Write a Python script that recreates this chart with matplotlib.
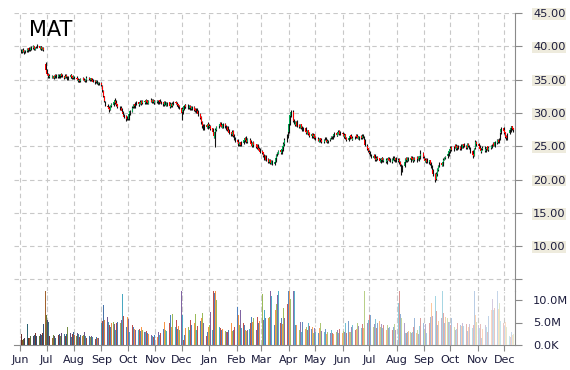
import matplotlib
matplotlib.use("Agg")
import matplotlib.pyplot as plt
import matplotlib.dates as mdates
import matplotlib.colors as mcolors
import numpy as np
import pandas as pd

ticker = "MAT"
start_date = "2014-06-02"
end_date = "2015-12-11"
month_labels_from = "2014-06-01"
month_labels_to = "2015-12-01"

opens = [
 39.2, 39.5, 39.2, 39.4, 39.1, 39.3, 39.7, 39.4, 39.8, 39.5, 39.7, 40.0, 39.5, 39.8, 39.8, 40.0, 39.6, 39.9, 39.5, 39.8, 37.4,
 36.4, 35.9, 35.8, 35.4, 35.6, 35.3, 35.6, 35.3, 35.7, 35.4, 35.7, 35.4, 35.5, 35.8, 35.5, 35.3, 35.7, 35.4, 35.2, 35.4, 35.7, 35.5, 35.2,
 35.5, 35.3, 35.2, 34.8, 35.0, 34.8, 35.0, 35.2, 35.0, 34.8, 35.0, 35.3, 35.1, 34.9, 35.2, 35.0, 34.8, 34.6, 34.8, 34.6, 34.3,
 34.5, 34.1, 33.3, 32.5, 31.7, 31.1, 30.9, 30.7, 30.5, 31.1, 31.2, 31.5, 31.8, 31.5, 31.3, 30.9, 30.5, 30.7, 30.2, 29.7, 29.5, 29.0,
 29.4, 29.1, 29.9, 30.2, 30.9, 31.3, 30.9, 31.3, 31.6, 31.2, 31.4, 31.8, 31.5, 31.8, 31.5, 31.9, 31.8, 31.4, 31.7, 32.0, 31.6, 31.9, 31.5,
 31.7, 31.9, 31.5, 31.9, 31.7, 31.6, 31.2, 31.7, 31.5, 31.1, 31.6, 30.9, 31.4, 31.0, 31.3, 31.7, 31.6, 31.4, 31.3, 31.1,
 30.8, 30.1, 30.5, 31.0, 31.2, 30.8, 31.1, 30.7, 31.0, 30.6, 30.9, 30.6, 30.2, 30.7, 30.3, 29.9, 29.4, 28.7, 28.1, 27.6, 28.2, 27.8, 28.4,
 27.9, 28.1, 27.7, 27.1, 26.3, 27.2, 27.4, 28.0, 28.1, 28.5, 28.2, 27.8, 28.4, 28.1, 27.5, 27.9, 27.5, 27.1, 26.7, 27.3, 26.7, 26.3,
 25.9, 25.7, 25.2, 25.6, 25.1, 25.5, 25.8, 26.3, 26.0, 25.6, 26.2, 25.9, 25.5, 25.0, 25.6, 25.3, 24.8, 25.2, 24.8, 24.6,
 24.3, 24.1, 23.7, 23.1, 23.6, 23.1, 22.6, 23.0, 22.4, 22.9, 22.3, 22.7, 23.2, 23.8, 23.9, 24.4, 24.0, 24.5, 24.9, 25.3, 25.9, 26.5,
 27.1, 28.4, 29.6, 30.2, 28.9, 28.6, 28.2, 28.7, 28.2, 27.8, 28.3, 27.9, 27.4, 27.8, 27.3, 26.9, 27.4, 27.0, 26.5, 26.9, 26.4, 26.8,
 26.4, 26.3, 26.1, 25.7, 26.2, 26.0, 25.6, 26.0, 26.3, 26.0, 25.6, 25.9, 26.2, 26.5, 26.2, 26.5, 27.0, 26.6, 26.9, 27.3, 26.8,
 27.0, 26.9, 26.4, 26.8, 26.3, 25.9, 26.2, 26.7, 26.5, 26.0, 26.2, 26.4, 26.7, 26.5, 26.1, 26.6, 26.2, 26.7, 26.5, 26.0, 25.1, 24.7,
 24.2, 24.1, 23.8, 23.3, 23.7, 23.3, 22.9, 23.4, 23.2, 22.7, 23.1, 23.3, 22.8, 23.2, 22.6, 23.0, 23.3, 23.1, 22.7, 23.2, 23.4, 22.9, 23.3,
 22.8, 23.1, 22.7, 22.1, 21.3, 22.1, 22.7, 23.2, 22.8, 23.3, 22.9, 23.4, 23.2, 22.8, 23.3, 22.9, 23.4, 23.0, 23.3, 23.5, 24.0,
 23.3, 23.2, 22.7, 23.1, 22.6, 22.9, 22.5, 22.1, 21.5, 20.9, 20.1, 20.8, 21.5, 22.1, 22.5, 22.1, 22.7, 23.0, 23.3, 23.5, 23.8, 24.2,
 24.5, 24.9, 24.4, 24.8, 25.2, 24.6, 25.1, 24.9, 24.5, 25.2, 24.8, 25.3, 25.1, 24.7, 25.4, 25.1, 24.8, 24.3, 23.8, 23.6, 24.7, 25.7,
 25.3, 25.1, 24.7, 24.2, 24.6, 24.9, 24.3, 24.7, 25.0, 24.4, 24.8, 24.9, 25.1, 25.5, 25.0, 25.5, 26.0, 25.6, 26.2, 27.1, 27.7,
 27.4, 27.1, 26.5, 26.1, 27.0, 27.4, 27.7, 28.0, 27.7,
]

highs = [
 39.6, 39.6, 39.7, 39.5, 39.5, 39.8, 39.8, 39.9, 39.9, 40.0, 40.2, 40.1, 39.9, 40.1, 40.3, 40.1, 40.0, 40.0, 39.9, 39.9, 37.7,
 36.6, 36.0, 35.9, 35.8, 35.7, 35.6, 35.7, 35.8, 35.8, 35.9, 35.8, 35.8, 36.0, 35.9, 35.6, 35.8, 35.8, 35.5, 35.6, 35.9, 35.8, 35.6, 35.7,
 35.6, 35.5, 35.3, 35.1, 35.1, 35.2, 35.4, 35.3, 35.1, 35.1, 35.5, 35.4, 35.2, 35.3, 35.3, 35.1, 34.9, 34.9, 34.9, 34.7, 34.7,
 34.6, 34.2, 33.5, 32.6, 31.8, 31.4, 31.1, 30.9, 31.2, 31.5, 31.8, 32.2, 31.9, 31.6, 31.4, 31.0, 31.0, 30.8, 30.3, 29.9, 29.7, 29.6,
 29.6, 30.0, 30.5, 31.0, 31.4, 31.4, 31.6, 31.8, 31.7, 31.7, 31.9, 31.9, 32.0, 31.9, 32.1, 32.0, 31.9, 32.0, 32.2, 32.1, 32.1, 32.0, 32.0,
 32.0, 32.0, 32.0, 32.1, 31.8, 31.7, 31.8, 31.8, 31.6, 31.7, 31.7, 31.5, 31.5, 31.6, 31.8, 31.8, 31.7, 31.5, 31.4, 31.2,
 30.9, 30.8, 31.2, 31.4, 31.3, 31.3, 31.2, 31.2, 31.1, 31.0, 31.0, 30.7, 30.8, 30.8, 30.4, 30.0, 29.5, 28.8, 28.3, 28.3, 28.4, 28.5, 28.6,
 28.3, 28.2, 27.8, 27.2, 27.3, 27.7, 28.1, 28.4, 28.6, 28.6, 28.3, 28.5, 28.5, 28.2, 28.0, 28.0, 27.6, 27.2, 27.4, 27.4, 26.8, 26.4,
 26.1, 25.9, 25.7, 25.7, 25.8, 26.0, 26.4, 26.5, 26.1, 26.3, 26.3, 26.0, 25.6, 25.6, 25.8, 25.4, 25.3, 25.3, 24.9, 24.7,
 24.5, 24.2, 23.8, 23.7, 23.7, 23.2, 23.1, 23.1, 22.9, 23.0, 22.8, 23.5, 23.9, 24.2, 24.5, 24.5, 24.8, 25.2, 25.6, 26.2, 26.8, 27.3,
 28.5, 29.9, 30.5, 30.4, 29.1, 28.8, 28.8, 28.9, 28.3, 28.4, 28.4, 28.0, 27.9, 27.9, 27.5, 27.5, 27.5, 27.1, 27.0, 27.0, 26.9, 26.9,
 26.6, 26.4, 26.2, 26.3, 26.3, 26.1, 26.1, 26.4, 26.4, 26.1, 26.0, 26.3, 26.6, 26.6, 26.8, 27.1, 27.1, 27.2, 27.4, 27.4, 27.3,
 27.1, 27.0, 26.8, 26.9, 26.4, 26.4, 26.7, 26.8, 26.6, 26.4, 26.6, 26.8, 26.8, 26.6, 26.6, 26.7, 26.8, 26.8, 26.6, 26.1, 25.3, 24.8,
 24.4, 24.3, 23.9, 23.8, 23.8, 23.4, 23.5, 23.5, 23.3, 23.1, 23.4, 23.4, 23.3, 23.3, 23.0, 23.4, 23.4, 23.2, 23.2, 23.5, 23.5, 23.3, 23.4,
 23.2, 23.2, 22.8, 22.3, 22.2, 22.8, 23.3, 23.4, 23.4, 23.4, 23.5, 23.5, 23.3, 23.4, 23.4, 23.5, 23.5, 23.6, 23.8, 24.4, 24.1,
 23.5, 23.3, 23.2, 23.2, 23.0, 23.0, 22.6, 22.2, 21.6, 21.0, 21.1, 21.8, 22.2, 22.6, 22.6, 22.8, 23.2, 23.4, 23.6, 24.1, 24.5, 24.8,
 25.0, 25.0, 25.0, 25.3, 25.3, 25.2, 25.2, 25.0, 25.3, 25.3, 25.4, 25.5, 25.2, 25.5, 25.5, 25.2, 24.9, 24.4, 23.9, 24.8, 26.0, 25.8,
 25.5, 25.2, 24.8, 24.7, 25.0, 25.0, 24.8, 25.1, 25.1, 24.9, 25.2, 25.4, 25.6, 25.6, 25.8, 26.1, 26.1, 26.2, 27.2, 27.9, 27.9,
 27.6, 27.2, 26.7, 27.0, 27.7, 28.0, 28.1, 28.1, 27.8,
]

lows = [
 39.0, 39.0, 39.1, 38.9, 39.0, 39.2, 39.2, 39.3, 39.3, 39.4, 39.6, 39.5, 39.4, 39.7, 39.7, 39.6, 39.5, 39.5, 39.4, 39.3, 36.2,
 35.7, 35.5, 35.3, 35.3, 35.2, 35.2, 35.1, 35.2, 35.3, 35.3, 35.2, 35.3, 35.4, 35.4, 35.1, 35.2, 35.2, 35.0, 35.0, 35.3, 35.2, 35.1, 35.1,
 35.1, 35.0, 34.7, 34.7, 34.6, 34.7, 34.9, 34.8, 34.6, 34.7, 34.9, 35.0, 34.8, 34.8, 34.9, 34.6, 34.4, 34.5, 34.4, 34.2, 34.2,
 34.0, 33.2, 32.4, 31.6, 31.0, 30.7, 30.4, 30.2, 30.4, 30.9, 31.1, 31.4, 31.3, 31.0, 30.7, 30.4, 30.4, 30.1, 29.6, 29.2, 28.8, 28.9,
 28.9, 29.0, 29.7, 30.1, 30.7, 30.8, 30.8, 31.2, 31.1, 31.1, 31.3, 31.2, 31.4, 31.4, 31.4, 31.5, 31.3, 31.3, 31.6, 31.5, 31.5, 31.4, 31.4,
 31.5, 31.4, 31.4, 31.5, 31.3, 31.1, 31.1, 31.2, 31.0, 31.0, 30.9, 30.8, 30.9, 30.9, 31.2, 31.3, 31.1, 31.0, 30.8, 30.6,
 28.9, 29.9, 30.4, 30.8, 30.7, 30.6, 30.6, 30.5, 30.5, 30.4, 30.3, 30.1, 30.0, 30.0, 29.6, 29.1, 28.4, 27.8, 27.4, 27.5, 27.7, 27.6, 27.8,
 27.7, 27.4, 27.0, 26.2, 24.9, 27.0, 27.3, 27.8, 28.0, 27.9, 27.7, 27.7, 27.8, 27.4, 27.3, 27.2, 26.8, 26.6, 26.5, 26.4, 26.0, 25.6,
 25.4, 25.1, 25.0, 25.0, 25.0, 25.3, 25.6, 25.8, 25.5, 25.5, 25.6, 25.3, 24.9, 24.9, 25.0, 24.7, 24.6, 24.5, 24.3, 24.0,
 23.8, 23.4, 23.0, 23.0, 22.8, 22.5, 22.5, 22.3, 22.3, 22.2, 22.2, 22.6, 23.0, 23.6, 23.8, 23.9, 23.9, 24.3, 24.7, 25.1, 25.7, 26.3,
 27.0, 28.2, 29.4, 28.6, 28.3, 28.1, 28.0, 27.9, 27.7, 27.7, 27.6, 27.3, 27.3, 27.0, 26.8, 26.8, 26.7, 26.4, 26.3, 26.3, 26.2, 26.1,
 26.0, 25.8, 25.6, 25.6, 25.7, 25.5, 25.5, 25.9, 25.7, 25.5, 25.5, 25.8, 26.1, 26.1, 26.1, 26.4, 26.5, 26.5, 26.8, 26.7, 26.7,
 26.6, 26.3, 26.3, 26.1, 25.8, 25.8, 26.1, 26.2, 26.0, 25.9, 26.1, 26.3, 26.3, 26.1, 26.0, 26.1, 26.1, 26.3, 25.9, 25.0, 24.4, 24.1,
 23.8, 23.5, 23.2, 23.2, 23.0, 22.8, 22.8, 22.9, 22.6, 22.5, 22.9, 22.7, 22.7, 22.5, 22.4, 22.9, 22.8, 22.6, 22.5, 23.0, 22.8, 22.7, 22.7,
 22.6, 22.4, 22.0, 20.7, 21.1, 21.9, 22.5, 22.7, 22.6, 22.8, 22.7, 22.9, 22.7, 22.6, 22.8, 22.7, 22.9, 22.8, 23.1, 23.3, 23.2,
 22.9, 22.6, 22.5, 22.5, 22.4, 22.2, 21.8, 21.2, 20.5, 19.6, 19.9, 20.6, 21.3, 21.9, 22.0, 22.0, 22.5, 22.9, 23.1, 23.3, 23.6, 24.0,
 24.3, 24.3, 24.3, 24.7, 24.5, 24.5, 24.6, 24.4, 24.4, 24.7, 24.7, 24.9, 24.6, 24.6, 24.9, 24.6, 24.0, 23.4, 23.2, 23.5, 24.6, 25.1,
 24.8, 24.4, 24.0, 24.1, 24.4, 24.2, 24.1, 24.5, 24.3, 24.3, 24.6, 24.8, 25.0, 25.0, 24.9, 25.4, 25.5, 25.5, 26.0, 26.9, 27.1,
 26.8, 26.2, 26.0, 26.0, 26.8, 27.2, 27.5, 27.4, 27.2,
]

closes = [
 39.4, 39.2, 39.5, 39.1, 39.3, 39.6, 39.4, 39.7, 39.5, 39.8, 40.0, 39.6, 39.8, 39.9, 40.1, 39.7, 39.9, 39.6, 39.8, 39.5, 36.4,
 35.9, 35.7, 35.5, 35.6, 35.4, 35.5, 35.3, 35.6, 35.5, 35.7, 35.4, 35.6, 35.8, 35.5, 35.3, 35.6, 35.4, 35.2, 35.5, 35.7, 35.4, 35.3, 35.5,
 35.3, 35.1, 34.9, 35.0, 34.8, 35.1, 35.2, 34.9, 34.8, 35.0, 35.3, 35.1, 34.9, 35.2, 35.0, 34.7, 34.6, 34.8, 34.5, 34.4, 34.5,
 34.2, 33.4, 32.6, 31.8, 31.2, 30.9, 30.6, 30.4, 31.0, 31.3, 31.6, 31.9, 31.5, 31.2, 30.9, 30.6, 30.8, 30.3, 29.8, 29.4, 29.1, 29.3,
 29.2, 29.8, 30.3, 30.8, 31.2, 31.0, 31.4, 31.6, 31.3, 31.5, 31.7, 31.4, 31.8, 31.6, 31.9, 31.7, 31.5, 31.8, 32.0, 31.7, 31.9, 31.6, 31.8,
 31.8, 31.6, 31.9, 31.7, 31.5, 31.3, 31.6, 31.4, 31.2, 31.5, 31.0, 31.3, 31.1, 31.4, 31.6, 31.5, 31.3, 31.2, 31.0, 30.9,
 30.0, 30.6, 31.0, 31.2, 30.9, 31.1, 30.8, 31.0, 30.7, 30.9, 30.5, 30.3, 30.6, 30.2, 29.8, 29.3, 28.6, 28.0, 27.7, 28.1, 27.9, 28.3, 28.0,
 28.0, 27.6, 27.2, 26.5, 27.1, 27.5, 27.9, 28.2, 28.4, 28.1, 27.9, 28.3, 28.0, 27.6, 27.8, 27.4, 27.0, 26.8, 27.2, 26.6, 26.2, 25.9,
 25.6, 25.3, 25.5, 25.2, 25.6, 25.9, 26.2, 26.0, 25.7, 26.1, 25.8, 25.4, 25.1, 25.5, 25.2, 24.9, 25.1, 24.7, 24.5, 24.2,
 24.0, 23.6, 23.2, 23.5, 23.0, 22.7, 22.9, 22.5, 22.8, 22.4, 22.6, 23.3, 23.7, 24.0, 24.3, 24.1, 24.6, 25.0, 25.4, 26.0, 26.6, 27.0,
 28.3, 29.7, 30.1, 28.8, 28.5, 28.3, 28.6, 28.1, 27.9, 28.2, 27.8, 27.5, 27.7, 27.2, 27.0, 27.3, 26.9, 26.6, 26.8, 26.5, 26.7, 26.3,
 26.2, 26.0, 25.8, 26.1, 25.9, 25.7, 26.0, 26.2, 25.9, 25.7, 25.8, 26.1, 26.4, 26.3, 26.6, 26.9, 26.7, 27.0, 27.2, 26.9, 27.1,
 26.8, 26.5, 26.7, 26.2, 26.0, 26.3, 26.6, 26.4, 26.1, 26.3, 26.5, 26.6, 26.4, 26.2, 26.5, 26.3, 26.6, 26.4, 26.0, 25.2, 24.6, 24.3,
 24.0, 23.7, 23.4, 23.6, 23.2, 23.0, 23.3, 23.1, 22.8, 23.0, 23.2, 22.9, 23.1, 22.7, 22.9, 23.2, 23.0, 22.8, 23.1, 23.3, 23.0, 23.2, 22.9,
 23.0, 22.6, 22.2, 21.2, 22.0, 22.6, 23.1, 22.9, 23.2, 23.0, 23.3, 23.1, 22.9, 23.2, 23.0, 23.3, 23.1, 23.4, 23.6, 23.9, 23.4,
 23.1, 22.8, 23.0, 22.7, 22.9, 22.4, 22.0, 21.4, 20.8, 20.0, 20.9, 21.6, 22.0, 22.4, 22.2, 22.6, 23.0, 23.2, 23.4, 23.9, 24.3, 24.6,
 24.8, 24.5, 24.9, 25.1, 24.7, 25.0, 24.8, 24.6, 25.1, 24.9, 25.2, 25.0, 24.8, 25.3, 25.0, 24.7, 24.2, 23.7, 23.5, 24.6, 25.6, 25.3,
 25.0, 24.6, 24.3, 24.5, 24.8, 24.4, 24.6, 24.9, 24.5, 24.7, 25.0, 25.2, 25.4, 25.1, 25.6, 25.9, 25.7, 26.0, 27.0, 27.6, 27.3,
 27.0, 26.4, 26.2, 26.9, 27.5, 27.8, 27.9, 27.6, 27.4,
]

volumes_m = [
 2.4, 1.2, 1.1, 1.3, 1.5, 4.7, 1.6, 1.8, 1.5, 1.9, 2.0, 2.2, 2.6, 2.1, 2.3, 1.9, 2.5, 2.2, 2.6, 4.7, 12.5,
 6.7, 5.6, 5.2, 2.0, 1.7, 1.5, 2.2, 1.9, 1.6, 2.3, 2.5, 1.8, 2.1, 2.6, 2.4, 1.9, 2.5, 2.2, 4.0, 2.6, 1.8, 2.4, 3.0,
 2.2, 2.0, 2.7, 2.4, 1.8, 2.2, 1.9, 2.3, 2.8, 2.0, 1.6, 1.9, 1.5, 1.7, 2.1, 1.8, 1.4, 1.7, 1.5, 1.9, 1.6,
 4.8, 5.3, 8.9, 5.6, 7.0, 6.3, 5.2, 4.5, 3.9, 5.0, 5.1, 4.6, 3.3, 4.8, 5.2, 3.5, 4.9, 5.5, 11.3, 6.4, 4.0, 6.2,
 6.0, 5.8, 3.0, 4.4, 4.1, 3.6, 9.4, 3.4, 3.3, 3.5, 3.2, 4.0, 3.3, 3.0, 2.9, 3.1, 2.7, 2.5, 2.4, 2.2, 2.0, 1.7, 2.3,
 1.8, 2.6, 2.8, 2.2, 2.6, 3.5, 5.2, 3.4, 4.4, 3.2, 4.8, 6.7, 4.1, 7.0, 3.4, 3.9, 5.6, 3.6, 4.2, 3.3,
 12.5, 6.7, 1.1, 2.2, 3.7, 4.0, 3.8, 3.3, 5.6, 4.5, 4.8, 7.0, 7.4, 3.3, 4.2, 5.3, 6.1, 7.2, 4.8, 3.6, 2.1, 2.9, 4.0,
 4.4, 7.4, 3.3, 12.5, 11.5, 12.5, 10.0, 7.6, 4.1, 3.7, 3.4, 3.6, 3.2, 3.0, 3.5, 2.9, 3.3, 4.8, 3.1, 3.4, 3.6, 4.0,
 8.5, 6.7, 4.4, 7.8, 3.7, 4.8, 4.4, 3.3, 3.2, 3.3, 3.5, 4.8, 6.3, 5.2, 5.9, 3.3, 4.6, 6.2, 5.0, 5.3,
 11.3, 5.6, 7.8, 8.9, 5.9, 5.9, 6.3, 12.5, 10.9, 5.2, 4.4, 7.8, 9.1, 11.1, 12.5, 4.9, 6.0, 4.7, 8.3, 6.1, 5.3, 9.2,
 12.5, 12.5, 10.2, 12.5, 12.5, 8.9, 4.5, 4.4, 3.3, 5.2, 3.0, 4.8, 5.2, 3.6, 4.0, 3.3, 5.0, 4.3, 3.6, 3.9, 2.6, 3.8,
 3.0, 4.0, 2.6, 3.7, 4.8, 3.1, 2.8, 3.4, 3.6, 2.5, 2.9, 2.7, 3.3, 2.6, 3.0, 2.5, 2.9, 3.3, 2.7, 3.6, 4.1,
 2.6, 3.2, 2.9, 5.0, 2.7, 5.4, 3.0, 2.8, 4.0, 4.5, 3.3, 4.8, 3.6, 5.0, 4.3, 3.7, 4.6, 5.5, 3.7, 12.5, 4.8, 5.5,
 6.7, 6.7, 5.5, 4.0, 4.6, 5.8, 3.8, 4.9, 5.3, 4.1, 4.6, 3.7, 4.4, 4.2, 3.3, 4.5, 3.7, 3.9, 3.4, 4.1, 5.0, 4.7, 3.3,
 9.3, 12.5, 7.0, 5.0, 6.1, 4.9, 2.7, 2.6, 2.9, 3.2, 2.8, 2.6, 3.0, 4.0, 5.9, 2.7, 3.3, 2.4, 4.2, 6.1, 4.8,
 2.8, 3.3, 4.6, 2.7, 5.0, 6.3, 9.3, 8.0, 6.4, 10.9, 7.5, 4.4, 5.3, 4.0, 6.0, 12.5, 7.2, 5.0, 6.2, 6.0, 5.1, 5.1,
 4.4, 6.1, 4.8, 4.1, 3.3, 3.6, 5.0, 4.5, 4.2, 3.6, 4.9, 4.3, 4.7, 3.2, 4.1, 3.1, 4.6, 3.7, 4.5, 12.5, 6.7, 5.2,
 4.5, 3.8, 4.6, 1.5, 3.5, 4.2, 4.5, 4.0, 3.0, 6.5, 7.8, 9.9, 10.2, 7.7, 8.3, 12.5, 8.0, 9.3, 6.3, 5.3, 4.8,
 4.2, 5.2, 4.1, 1.1, 2.0, 1.7, 2.8, 2.2, 2.5,
]

price_ticks = [5, 10, 15, 20, 25, 30, 35, 40, 45]
volume_ticks = [0, 5, 10]
volume_tick_labels = ["0.0K", "5.0M", "10.0M"]

# ---------------------------------------------------------------
dates = pd.bdate_range(start_date, end_date)
n = min(len(dates), len(opens), len(highs), len(lows), len(closes), len(volumes_m))
x = mdates.date2num(dates[:n].to_pydatetime())
o = np.array(opens[:n]); h = np.array(highs[:n]); l = np.array(lows[:n]); c = np.array(closes[:n])
v = np.array(volumes_m[:n])
h = np.maximum(h, np.maximum(o, c)); l = np.minimum(l, np.minimum(o, c))

W, H = 570, 370
fig = plt.figure(figsize=(W / 100, H / 100), dpi=100)
left, right = 14 / W, 515 / W
ax = fig.add_axes([left, (H - 291) / H, right - left, (291 - 13) / H])
axv = fig.add_axes([left, (H - 345) / H, right - left, (345 - 291) / H], sharex=ax)

grid_col = "#c8c8c8"
spine_col = "#8a8a8a"
text_col = "#1c1c3c"

xmin = mdates.date2num(pd.Timestamp("2014-05-25"))
xmax = mdates.date2num(pd.Timestamp("2015-12-13"))
months = pd.date_range(month_labels_from, month_labels_to, freq="MS")
mx = mdates.date2num(months.to_pydatetime())

# candles
up = c >= o
ax.vlines(x, l, h, color="#111111", linewidth=0.8, zorder=3)
body_lo = np.minimum(o, c)
body_h = np.maximum(np.abs(c - o), 0.08)
ax.bar(x[up], body_h[up], bottom=body_lo[up], width=0.9, color="#00a651", linewidth=0, zorder=4)
ax.bar(x[~up], body_h[~up], bottom=body_lo[~up], width=0.9, color="#ff0000", linewidth=0, zorder=4)

ax.set_ylim(45 - (291 - 13) / 6.66, 45)
ax.set_xlim(xmin, xmax)
ax.set_yticks(price_ticks)
ax.set_yticklabels(["" if t == 5 else f"{t:.2f}" for t in price_ticks])
ax.yaxis.tick_right()
ax.tick_params(axis="y", direction="out", length=5, width=0.8, color=spine_col,
               labelsize=8.2, labelcolor=text_col, pad=8)
for lab in ax.get_yticklabels():
    if lab.get_text():
        lab.set_bbox(dict(facecolor="#eeebdd", edgecolor="none", pad=0.6))
ax.set_xticks(mx)
ax.tick_params(axis="x", bottom=False, labelbottom=False)
for t in price_ticks:
    ax.axhline(t, color=grid_col, linewidth=0.8, linestyle=(0, (4, 3)), zorder=0)
for m in mx:
    ax.axvline(m, color=grid_col, linewidth=0.8, linestyle=(0, (4, 3)), zorder=0)
for s in ["top", "left", "bottom"]:
    ax.spines[s].set_visible(False)
ax.spines["right"].set_color(spine_col)
ax.set_facecolor("none")

# volume bars with colour cycle that darkens early and fades late
palette = ["#c0504d", "#4f81bd", "#f79646", "#9bbb59", "#8064a2", "#4bacc6"]
cols = []
for i in range(n):
    base = np.array(mcolors.to_rgb(palette[i % len(palette)]))
    t = i / max(n - 1, 1)
    if t < 0.22:
        f = (0.22 - t) / 0.22 * 0.45
        col = base * (1 - f)
    elif t > 0.5:
        f = (t - 0.5) / 0.5 * 0.72
        col = base + (1 - base) * f
    else:
        col = base
    cols.append(tuple(col))
axv.bar(x, v, width=1.0, color=cols, linewidth=0, zorder=3)
axv.set_ylim(0, 12)
axv.set_yticks(volume_ticks)
axv.set_yticklabels(volume_tick_labels)
axv.yaxis.tick_right()
axv.tick_params(axis="y", direction="out", length=5, width=0.8, color=spine_col,
                labelsize=8.2, labelcolor=text_col, pad=8)
axv.set_xticks(mx)
axv.set_xticklabels([d.strftime("%b") for d in months])
axv.tick_params(axis="x", direction="out", length=4, width=0.8, color=spine_col,
                labelsize=8, labelcolor=text_col, pad=3)
for m in mx:
    axv.axvline(m, color=grid_col, linewidth=0.8, linestyle=(0, (5, 2, 1, 2)), zorder=0)
for s in ["top", "left"]:
    axv.spines[s].set_visible(False)
axv.spines["right"].set_color(spine_col)
axv.spines["bottom"].set_color(spine_col)
axv.set_facecolor("none")
axv.set_xlim(xmin, xmax)

fig.text(29 / W, 1 - 36 / H, ticker, fontsize=15, color="#000000", va="baseline", ha="left")

fig.savefig("out.png", dpi=100)
